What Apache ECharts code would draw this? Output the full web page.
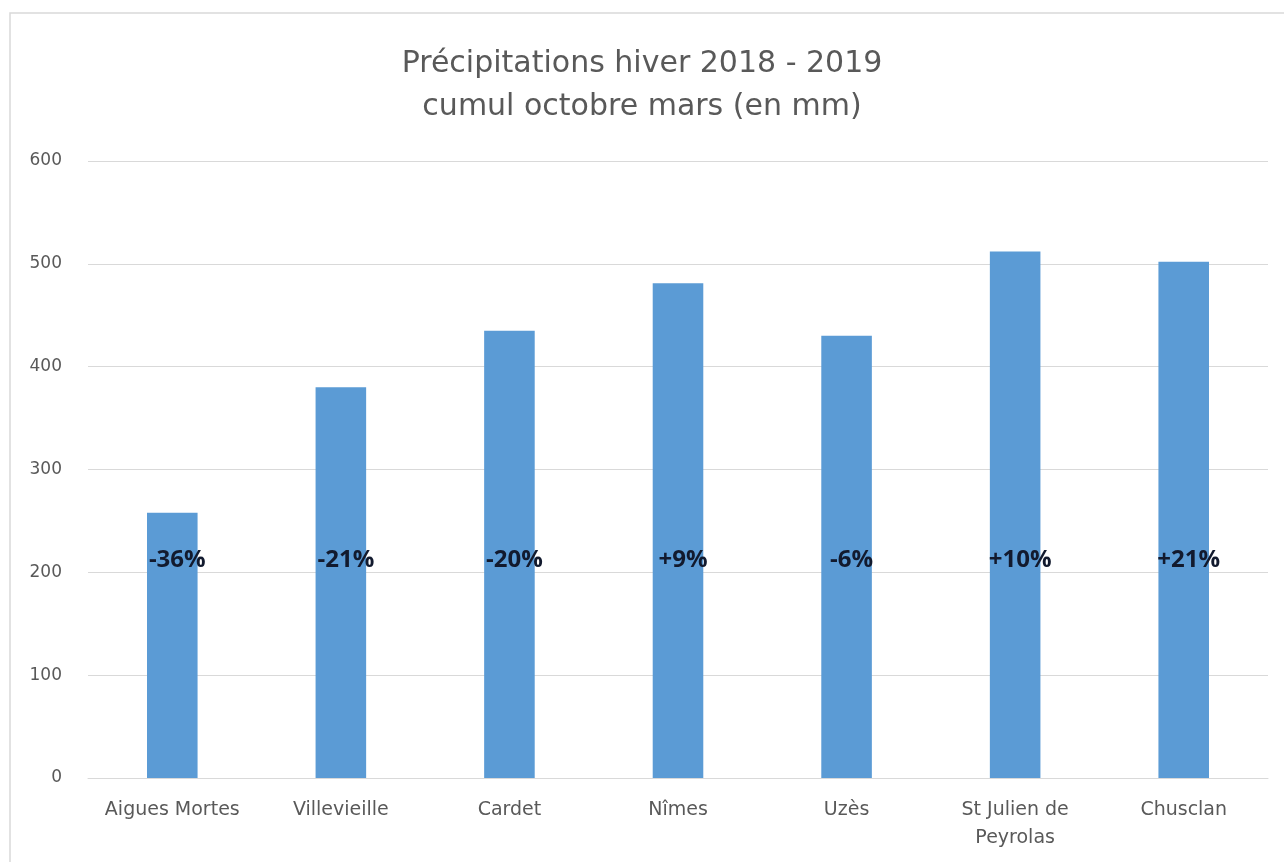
<!DOCTYPE html>
<html>
<head>
<meta charset="UTF-8">
<title>Précipitations hiver 2018 - 2019</title>
<script src="https://cdn.jsdelivr.net/npm/echarts@6/dist/echarts.min.js"></script>
<style>html,body{margin:0;padding:0;background:#fff;}</style>
</head>
<body>
<div id="main" style="width:1284px;height:862px;"></div>
<script>
// stations and winter rainfall (mm), change vs normal
var stations = ['Aigues Mortes', 'Villevieille', 'Cardet', 'Nîmes', 'Uzès', 'St Julien de Peyrolas', 'Chusclan'];
var rainMm = [258, 380, 435, 481, 430, 512, 502];
var deltaPct = ['-36%', '-21%', '-20%', '+9%', '-6%', '+10%', '+21%'];

var chart = echarts.init(document.getElementById('main'));
var txt = '#595959';
chart.setOption({
    backgroundColor: '#fff',
    title: {
        text: 'Précipitations hiver 2018 - 2019\ncumul octobre mars (en mm)',
        left: 'center',
        top: 38,
        textStyle: { color: txt, fontSize: 30, fontWeight: 'normal', lineHeight: 43, fontFamily: 'DejaVu Sans' }
    },
    graphic: [{
        type: 'rect',
        shape: { x: 10, y: 13, width: 1290, height: 870 },
        style: { fill: 'none', stroke: '#d9d9d9', lineWidth: 1.5 },
        silent: true
    }],
    grid: { left: 88, right: 16, top: 161, bottom: 84 },
    xAxis: {
        type: 'category',
        data: stations,
        axisLine: { lineStyle: { color: '#d9d9d9' } },
        axisTick: { show: false },
        axisLabel: {
            color: txt, fontSize: 19, margin: 18, lineHeight: 28, interval: 0,
            fontFamily: 'DejaVu Sans',
            formatter: function (v) { return v.replace(' de ', ' de\n'); }
        }
    },
    yAxis: {
        type: 'value',
        min: 0, max: 600, interval: 100,
        axisLine: { show: false },
        axisTick: { show: false },
        splitLine: { lineStyle: { color: '#d9d9d9' } },
        axisLabel: { color: txt, fontSize: 17, margin: 26, fontFamily: 'DejaVu Sans' }
    },
    series: [{
        type: 'bar',
        data: rainMm,
        barWidth: '30%',
        itemStyle: { color: '#5b9bd5' },
        label: {
            show: true,
            position: 'insideBottom',
            distance: 206,
            offset: [5, 0],
            color: '#121a2e',
            fontSize: 24,
            fontWeight: 'bold',
            fontFamily: 'Open Sans',
            formatter: function (p) { return deltaPct[p.dataIndex]; }
        }
    }]
});
</script>
</body>
</html>
